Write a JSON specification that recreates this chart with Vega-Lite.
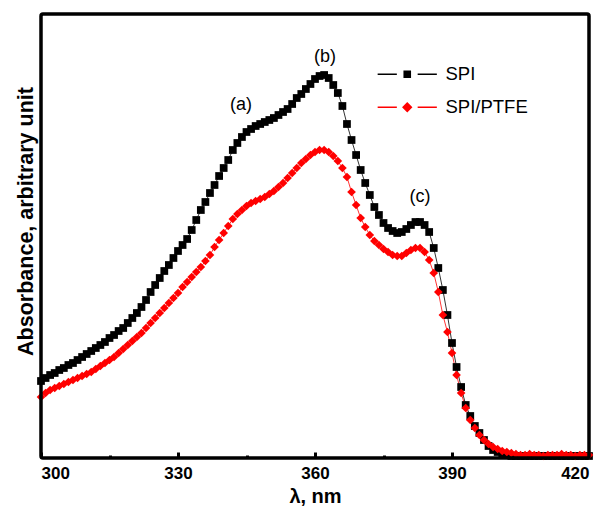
{
  "$schema": "https://vega.github.io/schema/vega-lite/v6.json",
  "width": 548,
  "height": 444,
  "autosize": "none",
  "padding": {"left": 41, "top": 14, "right": 5, "bottom": 52},
  "config": {
    "font": "Liberation Sans",
    "view": {"stroke": null}
  },
  "datasets": {
    "spectra": [
      {"wavelength":300,"absorbance":77,"sample":"SPI"},{"wavelength":301,"absorbance":80,"sample":"SPI"},{"wavelength":302,"absorbance":83,"sample":"SPI"},{"wavelength":303,"absorbance":85,"sample":"SPI"},{"wavelength":304,"absorbance":88,"sample":"SPI"},{"wavelength":305,"absorbance":90,"sample":"SPI"},{"wavelength":306,"absorbance":93,"sample":"SPI"},{"wavelength":307,"absorbance":95,"sample":"SPI"},{"wavelength":308,"absorbance":98,"sample":"SPI"},{"wavelength":309,"absorbance":101,"sample":"SPI"},
      {"wavelength":310,"absorbance":104,"sample":"SPI"},{"wavelength":311,"absorbance":107,"sample":"SPI"},{"wavelength":312,"absorbance":110,"sample":"SPI"},{"wavelength":313,"absorbance":113,"sample":"SPI"},{"wavelength":314,"absorbance":116,"sample":"SPI"},{"wavelength":315,"absorbance":120,"sample":"SPI"},{"wavelength":316,"absorbance":123,"sample":"SPI"},{"wavelength":317,"absorbance":127,"sample":"SPI"},{"wavelength":318,"absorbance":130,"sample":"SPI"},{"wavelength":319,"absorbance":135,"sample":"SPI"},
      {"wavelength":320,"absorbance":140,"sample":"SPI"},{"wavelength":321,"absorbance":145,"sample":"SPI"},{"wavelength":322,"absorbance":151,"sample":"SPI"},{"wavelength":323,"absorbance":158,"sample":"SPI"},{"wavelength":324,"absorbance":166,"sample":"SPI"},{"wavelength":325,"absorbance":173,"sample":"SPI"},{"wavelength":326,"absorbance":180,"sample":"SPI"},{"wavelength":327,"absorbance":187,"sample":"SPI"},{"wavelength":328,"absorbance":193,"sample":"SPI"},{"wavelength":329,"absorbance":200,"sample":"SPI"},
      {"wavelength":330,"absorbance":207,"sample":"SPI"},{"wavelength":331,"absorbance":213,"sample":"SPI"},{"wavelength":332,"absorbance":219,"sample":"SPI"},{"wavelength":333,"absorbance":228,"sample":"SPI"},{"wavelength":334,"absorbance":238,"sample":"SPI"},{"wavelength":335,"absorbance":248,"sample":"SPI"},{"wavelength":336,"absorbance":256,"sample":"SPI"},{"wavelength":337,"absorbance":265,"sample":"SPI"},{"wavelength":338,"absorbance":273,"sample":"SPI"},{"wavelength":339,"absorbance":282,"sample":"SPI"},
      {"wavelength":340,"absorbance":290,"sample":"SPI"},{"wavelength":341,"absorbance":298,"sample":"SPI"},{"wavelength":342,"absorbance":308,"sample":"SPI"},{"wavelength":343,"absorbance":315,"sample":"SPI"},{"wavelength":344,"absorbance":321,"sample":"SPI"},{"wavelength":345,"absorbance":326,"sample":"SPI"},{"wavelength":346,"absorbance":329,"sample":"SPI"},{"wavelength":347,"absorbance":332,"sample":"SPI"},{"wavelength":348,"absorbance":334,"sample":"SPI"},{"wavelength":349,"absorbance":336,"sample":"SPI"},
      {"wavelength":350,"absorbance":338,"sample":"SPI"},{"wavelength":351,"absorbance":340,"sample":"SPI"},{"wavelength":352,"absorbance":343,"sample":"SPI"},{"wavelength":353,"absorbance":346,"sample":"SPI"},{"wavelength":354,"absorbance":349,"sample":"SPI"},{"wavelength":355,"absorbance":354,"sample":"SPI"},{"wavelength":356,"absorbance":360,"sample":"SPI"},{"wavelength":357,"absorbance":364,"sample":"SPI"},{"wavelength":358,"absorbance":369,"sample":"SPI"},{"wavelength":359,"absorbance":374,"sample":"SPI"},
      {"wavelength":360,"absorbance":379,"sample":"SPI"},{"wavelength":361,"absorbance":382,"sample":"SPI"},{"wavelength":362,"absorbance":383,"sample":"SPI"},{"wavelength":363,"absorbance":380,"sample":"SPI"},{"wavelength":364,"absorbance":373,"sample":"SPI"},{"wavelength":365,"absorbance":365,"sample":"SPI"},{"wavelength":366,"absorbance":352,"sample":"SPI"},{"wavelength":367,"absorbance":334,"sample":"SPI"},{"wavelength":368,"absorbance":318,"sample":"SPI"},{"wavelength":369,"absorbance":303,"sample":"SPI"},
      {"wavelength":370,"absorbance":288,"sample":"SPI"},{"wavelength":371,"absorbance":275,"sample":"SPI"},{"wavelength":372,"absorbance":263,"sample":"SPI"},{"wavelength":373,"absorbance":251,"sample":"SPI"},{"wavelength":374,"absorbance":243,"sample":"SPI"},{"wavelength":375,"absorbance":235,"sample":"SPI"},{"wavelength":376,"absorbance":230,"sample":"SPI"},{"wavelength":377,"absorbance":227,"sample":"SPI"},{"wavelength":378,"absorbance":225,"sample":"SPI"},{"wavelength":379,"absorbance":226,"sample":"SPI"},
      {"wavelength":380,"absorbance":229,"sample":"SPI"},{"wavelength":381,"absorbance":233,"sample":"SPI"},{"wavelength":382,"absorbance":236,"sample":"SPI"},{"wavelength":383,"absorbance":236,"sample":"SPI"},{"wavelength":384,"absorbance":233,"sample":"SPI"},{"wavelength":385,"absorbance":226,"sample":"SPI"},{"wavelength":386,"absorbance":210,"sample":"SPI"},{"wavelength":387,"absorbance":190,"sample":"SPI"},{"wavelength":388,"absorbance":168,"sample":"SPI"},{"wavelength":389,"absorbance":143,"sample":"SPI"},
      {"wavelength":390,"absorbance":115,"sample":"SPI"},{"wavelength":391,"absorbance":91,"sample":"SPI"},{"wavelength":392,"absorbance":71,"sample":"SPI"},{"wavelength":393,"absorbance":53,"sample":"SPI"},{"wavelength":394,"absorbance":42,"sample":"SPI"},{"wavelength":395,"absorbance":32,"sample":"SPI"},{"wavelength":396,"absorbance":25,"sample":"SPI"},{"wavelength":397,"absorbance":18,"sample":"SPI"},{"wavelength":398,"absorbance":12,"sample":"SPI"},{"wavelength":399,"absorbance":8,"sample":"SPI"},
      {"wavelength":400,"absorbance":6,"sample":"SPI"},{"wavelength":401,"absorbance":4,"sample":"SPI"},{"wavelength":402,"absorbance":3,"sample":"SPI"},{"wavelength":403,"absorbance":2,"sample":"SPI"},{"wavelength":404,"absorbance":2,"sample":"SPI"},{"wavelength":405,"absorbance":2,"sample":"SPI"},{"wavelength":406,"absorbance":2,"sample":"SPI"},{"wavelength":407,"absorbance":2,"sample":"SPI"},{"wavelength":408,"absorbance":2,"sample":"SPI"},{"wavelength":409,"absorbance":2,"sample":"SPI"},
      {"wavelength":410,"absorbance":2,"sample":"SPI"},{"wavelength":411,"absorbance":2,"sample":"SPI"},{"wavelength":412,"absorbance":2,"sample":"SPI"},{"wavelength":413,"absorbance":2,"sample":"SPI"},{"wavelength":414,"absorbance":2,"sample":"SPI"},{"wavelength":415,"absorbance":2,"sample":"SPI"},{"wavelength":416,"absorbance":2,"sample":"SPI"},{"wavelength":417,"absorbance":2,"sample":"SPI"},{"wavelength":418,"absorbance":2,"sample":"SPI"},{"wavelength":419,"absorbance":2,"sample":"SPI"},{"wavelength":420,"absorbance":2,"sample":"SPI"},
      {"wavelength":300,"absorbance":61,"sample":"SPI/PTFE"},{"wavelength":301,"absorbance":65,"sample":"SPI/PTFE"},{"wavelength":302,"absorbance":68,"sample":"SPI/PTFE"},{"wavelength":303,"absorbance":70,"sample":"SPI/PTFE"},{"wavelength":304,"absorbance":72,"sample":"SPI/PTFE"},{"wavelength":305,"absorbance":74,"sample":"SPI/PTFE"},{"wavelength":306,"absorbance":76,"sample":"SPI/PTFE"},{"wavelength":307,"absorbance":78,"sample":"SPI/PTFE"},{"wavelength":308,"absorbance":80,"sample":"SPI/PTFE"},{"wavelength":309,"absorbance":82,"sample":"SPI/PTFE"},
      {"wavelength":310,"absorbance":84,"sample":"SPI/PTFE"},{"wavelength":311,"absorbance":86,"sample":"SPI/PTFE"},{"wavelength":312,"absorbance":89,"sample":"SPI/PTFE"},{"wavelength":313,"absorbance":92,"sample":"SPI/PTFE"},{"wavelength":314,"absorbance":95,"sample":"SPI/PTFE"},{"wavelength":315,"absorbance":98,"sample":"SPI/PTFE"},{"wavelength":316,"absorbance":101,"sample":"SPI/PTFE"},{"wavelength":317,"absorbance":105,"sample":"SPI/PTFE"},{"wavelength":318,"absorbance":109,"sample":"SPI/PTFE"},{"wavelength":319,"absorbance":113,"sample":"SPI/PTFE"},
      {"wavelength":320,"absorbance":117,"sample":"SPI/PTFE"},{"wavelength":321,"absorbance":121,"sample":"SPI/PTFE"},{"wavelength":322,"absorbance":125,"sample":"SPI/PTFE"},{"wavelength":323,"absorbance":130,"sample":"SPI/PTFE"},{"wavelength":324,"absorbance":135,"sample":"SPI/PTFE"},{"wavelength":325,"absorbance":140,"sample":"SPI/PTFE"},{"wavelength":326,"absorbance":145,"sample":"SPI/PTFE"},{"wavelength":327,"absorbance":150,"sample":"SPI/PTFE"},{"wavelength":328,"absorbance":155,"sample":"SPI/PTFE"},{"wavelength":329,"absorbance":160,"sample":"SPI/PTFE"},
      {"wavelength":330,"absorbance":165,"sample":"SPI/PTFE"},{"wavelength":331,"absorbance":171,"sample":"SPI/PTFE"},{"wavelength":332,"absorbance":176,"sample":"SPI/PTFE"},{"wavelength":333,"absorbance":181,"sample":"SPI/PTFE"},{"wavelength":334,"absorbance":186,"sample":"SPI/PTFE"},{"wavelength":335,"absorbance":191,"sample":"SPI/PTFE"},{"wavelength":336,"absorbance":197,"sample":"SPI/PTFE"},{"wavelength":337,"absorbance":203,"sample":"SPI/PTFE"},{"wavelength":338,"absorbance":211,"sample":"SPI/PTFE"},{"wavelength":339,"absorbance":218,"sample":"SPI/PTFE"},
      {"wavelength":340,"absorbance":225,"sample":"SPI/PTFE"},{"wavelength":341,"absorbance":232,"sample":"SPI/PTFE"},{"wavelength":342,"absorbance":239,"sample":"SPI/PTFE"},{"wavelength":343,"absorbance":244,"sample":"SPI/PTFE"},{"wavelength":344,"absorbance":248,"sample":"SPI/PTFE"},{"wavelength":345,"absorbance":252,"sample":"SPI/PTFE"},{"wavelength":346,"absorbance":255,"sample":"SPI/PTFE"},{"wavelength":347,"absorbance":257,"sample":"SPI/PTFE"},{"wavelength":348,"absorbance":259,"sample":"SPI/PTFE"},{"wavelength":349,"absorbance":261,"sample":"SPI/PTFE"},
      {"wavelength":350,"absorbance":264,"sample":"SPI/PTFE"},{"wavelength":351,"absorbance":267,"sample":"SPI/PTFE"},{"wavelength":352,"absorbance":271,"sample":"SPI/PTFE"},{"wavelength":353,"absorbance":275,"sample":"SPI/PTFE"},{"wavelength":354,"absorbance":280,"sample":"SPI/PTFE"},{"wavelength":355,"absorbance":285,"sample":"SPI/PTFE"},{"wavelength":356,"absorbance":290,"sample":"SPI/PTFE"},{"wavelength":357,"absorbance":295,"sample":"SPI/PTFE"},{"wavelength":358,"absorbance":299,"sample":"SPI/PTFE"},{"wavelength":359,"absorbance":303,"sample":"SPI/PTFE"},
      {"wavelength":360,"absorbance":306,"sample":"SPI/PTFE"},{"wavelength":361,"absorbance":308,"sample":"SPI/PTFE"},{"wavelength":362,"absorbance":308,"sample":"SPI/PTFE"},{"wavelength":363,"absorbance":306,"sample":"SPI/PTFE"},{"wavelength":364,"absorbance":302,"sample":"SPI/PTFE"},{"wavelength":365,"absorbance":297,"sample":"SPI/PTFE"},{"wavelength":366,"absorbance":290,"sample":"SPI/PTFE"},{"wavelength":367,"absorbance":281,"sample":"SPI/PTFE"},{"wavelength":368,"absorbance":266,"sample":"SPI/PTFE"},{"wavelength":369,"absorbance":253,"sample":"SPI/PTFE"},
      {"wavelength":370,"absorbance":240,"sample":"SPI/PTFE"},{"wavelength":371,"absorbance":231,"sample":"SPI/PTFE"},{"wavelength":372,"absorbance":223,"sample":"SPI/PTFE"},{"wavelength":373,"absorbance":217,"sample":"SPI/PTFE"},{"wavelength":374,"absorbance":213,"sample":"SPI/PTFE"},{"wavelength":375,"absorbance":209,"sample":"SPI/PTFE"},{"wavelength":376,"absorbance":206,"sample":"SPI/PTFE"},{"wavelength":377,"absorbance":203,"sample":"SPI/PTFE"},{"wavelength":378,"absorbance":202,"sample":"SPI/PTFE"},{"wavelength":379,"absorbance":202,"sample":"SPI/PTFE"},
      {"wavelength":380,"absorbance":205,"sample":"SPI/PTFE"},{"wavelength":381,"absorbance":208,"sample":"SPI/PTFE"},{"wavelength":382,"absorbance":210,"sample":"SPI/PTFE"},{"wavelength":383,"absorbance":210,"sample":"SPI/PTFE"},{"wavelength":384,"absorbance":206,"sample":"SPI/PTFE"},{"wavelength":385,"absorbance":198,"sample":"SPI/PTFE"},{"wavelength":386,"absorbance":185,"sample":"SPI/PTFE"},{"wavelength":387,"absorbance":166,"sample":"SPI/PTFE"},{"wavelength":388,"absorbance":143,"sample":"SPI/PTFE"},{"wavelength":389,"absorbance":126,"sample":"SPI/PTFE"},
      {"wavelength":390,"absorbance":105,"sample":"SPI/PTFE"},{"wavelength":391,"absorbance":83,"sample":"SPI/PTFE"},{"wavelength":392,"absorbance":65,"sample":"SPI/PTFE"},{"wavelength":393,"absorbance":50,"sample":"SPI/PTFE"},{"wavelength":394,"absorbance":38,"sample":"SPI/PTFE"},{"wavelength":395,"absorbance":30,"sample":"SPI/PTFE"},{"wavelength":396,"absorbance":23,"sample":"SPI/PTFE"},{"wavelength":397,"absorbance":18,"sample":"SPI/PTFE"},{"wavelength":398,"absorbance":14,"sample":"SPI/PTFE"},{"wavelength":399,"absorbance":11,"sample":"SPI/PTFE"},
      {"wavelength":400,"absorbance":9,"sample":"SPI/PTFE"},{"wavelength":401,"absorbance":7,"sample":"SPI/PTFE"},{"wavelength":402,"absorbance":6,"sample":"SPI/PTFE"},{"wavelength":403,"absorbance":5,"sample":"SPI/PTFE"},{"wavelength":404,"absorbance":4,"sample":"SPI/PTFE"},{"wavelength":405,"absorbance":3,"sample":"SPI/PTFE"},{"wavelength":406,"absorbance":3,"sample":"SPI/PTFE"},{"wavelength":407,"absorbance":4,"sample":"SPI/PTFE"},{"wavelength":408,"absorbance":3,"sample":"SPI/PTFE"},{"wavelength":409,"absorbance":3,"sample":"SPI/PTFE"},
      {"wavelength":410,"absorbance":2,"sample":"SPI/PTFE"},{"wavelength":411,"absorbance":3,"sample":"SPI/PTFE"},{"wavelength":412,"absorbance":3,"sample":"SPI/PTFE"},{"wavelength":413,"absorbance":3,"sample":"SPI/PTFE"},{"wavelength":414,"absorbance":4,"sample":"SPI/PTFE"},{"wavelength":415,"absorbance":3,"sample":"SPI/PTFE"},{"wavelength":416,"absorbance":3,"sample":"SPI/PTFE"},{"wavelength":417,"absorbance":2,"sample":"SPI/PTFE"},{"wavelength":418,"absorbance":3,"sample":"SPI/PTFE"},{"wavelength":419,"absorbance":3,"sample":"SPI/PTFE"},{"wavelength":420,"absorbance":3,"sample":"SPI/PTFE"}
    ],
    "notes": [
      {"wavelength":343.8,"absorbance":353,"label":"(a)"},
      {"wavelength":362.2,"absorbance":401,"label":"(b)"},
      {"wavelength":383.0,"absorbance":261,"label":"(c)"}
    ]
  },
  "resolve": {"axis": {"x": "independent"}},
  "layer": [
    {
      "data": {"name": "spectra"},
      "transform": [{"filter": "datum.sample === 'SPI'"}],
      "mark": {"type": "line", "strokeWidth": 0.8, "color": "#000000"},
      "encoding": {
        "x": {"field": "wavelength", "type": "quantitative", "scale": {"domain": [300, 420], "nice": false, "zero": false},
          "axis": {"orient": "bottom", "title": "λ, nm", "values": [300,330,360,390,420], "grid": false, "domain": false, "tickSize": -6, "tickWidth": 3, "tickColor": "black", "labelFontSize": 17, "labelFontWeight": "bold", "labelColor": "black", "labelPadding": 13, "titleFontSize": 20, "titleFontWeight": "bold", "titleColor": "black", "titlePadding": 5}},
        "y": {"field": "absorbance", "type": "quantitative", "scale": {"domain": [0, 444], "nice": false},
          "axis": {"orient": "left", "title": "Absorbance, arbitrary unit", "labels": false, "ticks": false, "domain": false, "grid": false, "titleFontSize": 21.5, "titleFontWeight": "bold", "titleColor": "black", "titlePadding": 4, "titleY": 207}}
      }
    },
    {
      "data": {"name": "spectra"},
      "transform": [{"filter": "datum.sample === 'SPI/PTFE'"}],
      "mark": {"type": "line", "strokeWidth": 0.8, "color": "#ff0000"},
      "encoding": {
        "x": {"field": "wavelength", "type": "quantitative", "axis": null},
        "y": {"field": "absorbance", "type": "quantitative"}
      }
    },
    {
      "data": {"name": "spectra"},
      "transform": [{"filter": "datum.sample === 'SPI'"}],
      "mark": {"type": "point", "shape": "square", "size": 60, "filled": true, "opacity": 1, "strokeWidth": 0},
      "encoding": {
        "x": {"field": "wavelength", "type": "quantitative", "axis": null},
        "y": {"field": "absorbance", "type": "quantitative"},
        "color": {"field": "sample", "type": "nominal", "scale": {"domain": ["SPI", "SPI/PTFE"], "range": ["#000000", "#ff0000"]},
          "legend": {
            "title": null, "orient": "none", "legendX": 357, "legendY": 51, "padding": 0,
            "symbolSize": 64, "symbolStrokeWidth": 0, "symbolOpacity": 1,
            "labelFontSize": 18.5, "labelColor": "black", "labelOffset": 29, "rowPadding": 14,
            "encode": {"symbols": {"update": {"shape": {"signal": "datum.value === 'SPI' ? 'M-7.4,-0.18H-2.6V0.18H-7.4Z M-0.95,-0.95H0.95V0.95H-0.95Z M2.6,-0.18H7.4V0.18H2.6Z' : 'M-7.4,-0.2H-2.6V0.2H-7.4Z M0,-1.3L1.3,0L0,1.3L-1.3,0Z M2.6,-0.2H7.4V0.2H2.6Z'"}}}}
          }}
      }
    },
    {
      "data": {"name": "spectra"},
      "transform": [{"filter": "datum.sample === 'SPI/PTFE'"}],
      "mark": {"type": "point", "shape": "diamond", "size": 75, "filled": true, "opacity": 1, "strokeWidth": 0},
      "encoding": {
        "x": {"field": "wavelength", "type": "quantitative", "axis": null},
        "y": {"field": "absorbance", "type": "quantitative"},
        "color": {"field": "sample", "type": "nominal",
          "legend": {
            "title": null, "orient": "none", "legendX": 357, "legendY": 51, "padding": 0,
            "symbolSize": 64, "symbolStrokeWidth": 0, "symbolOpacity": 1,
            "labelFontSize": 18.5, "labelColor": "black", "labelOffset": 29, "rowPadding": 14,
            "encode": {"symbols": {"update": {"shape": {"signal": "datum.value === 'SPI' ? 'M-7.4,-0.18H-2.6V0.18H-7.4Z M-0.95,-0.95H0.95V0.95H-0.95Z M2.6,-0.18H7.4V0.18H2.6Z' : 'M-7.4,-0.2H-2.6V0.2H-7.4Z M0,-1.3L1.3,0L0,1.3L-1.3,0Z M2.6,-0.2H7.4V0.2H2.6Z'"}}}}
          }}
      }
    },
    {
      "data": {"name": "notes"},
      "mark": {"type": "text", "fontSize": 18, "color": "black"},
      "encoding": {
        "x": {"field": "wavelength", "type": "quantitative",
          "axis": {"orient": "bottom", "title": null, "values": [315,345,375,405], "labels": false, "domain": false, "grid": false, "tickSize": -3, "tickWidth": 3, "tickColor": "black"}},
        "y": {"field": "absorbance", "type": "quantitative"},
        "text": {"field": "label"}
      }
    },
    {
      "data": {"name": "spectra"},
      "mark": {"type": "rect", "fill": null, "fillOpacity": 0, "stroke": "black", "strokeWidth": 3.5, "cornerRadius": 2},
      "encoding": {
        "x": {"aggregate": "min", "field": "wavelength", "type": "quantitative", "axis": null},
        "x2": {"aggregate": "max", "field": "wavelength"},
        "y": {"datum": 444, "type": "quantitative"},
        "y2": {"datum": 0}
      }
    }
  ]
}
